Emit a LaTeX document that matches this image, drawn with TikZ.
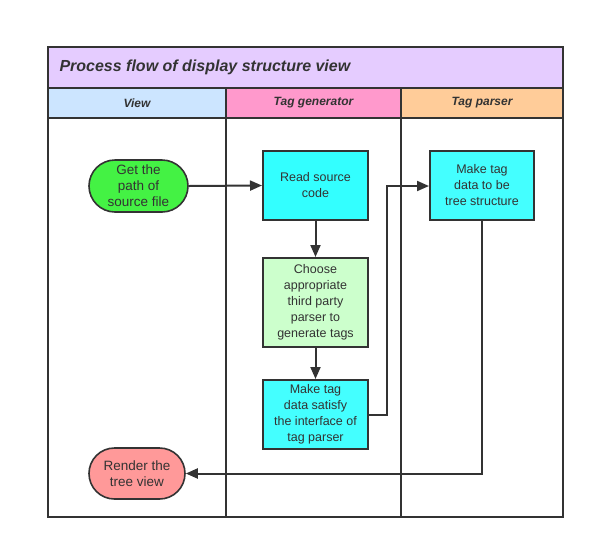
\documentclass[tikz,border=0pt]{standalone}
\usepackage{fontspec}
\setmainfont{Liberation Sans}
\usetikzlibrary{arrows.meta,shapes.misc}
\definecolor{ink}{HTML}{333333}
\definecolor{titlebg}{HTML}{E5CCFF}
\definecolor{viewbg}{HTML}{CCE5FF}
\definecolor{genbg}{HTML}{FF99CC}
\definecolor{parbg}{HTML}{FFCC99}
\definecolor{cyanbox}{HTML}{33FFFF}
\definecolor{cyanbox2}{HTML}{44FFFF}
\definecolor{lgreen}{HTML}{CCFFCC}
\definecolor{green}{HTML}{44F244}
\definecolor{pink}{HTML}{FF9999}
\tikzset{
  frame/.style={draw=ink, line width=2pt},
  procbox/.style={draw=ink, line width=2pt, rectangle, minimum width=105pt, align=center, text=ink, font=\fontsize{12.5}{16}\selectfont, inner sep=1pt},
  termbox/.style={draw=ink, line width=1.6pt, rounded rectangle, align=center, text=ink, font=\fontsize{13.5}{16}\selectfont, inner sep=1pt},
  flow/.style={draw=ink, line width=2pt, -{Triangle[length=12pt,width=10pt]}},
  hdr/.style={text=ink, font=\bfseries\itshape\fontsize{12}{14}\selectfont},
}
\begin{document}
\begin{tikzpicture}[x=1pt,y=-1pt]
\useasboundingbox (0,0) rectangle (595,550);
% lanes
\fill[titlebg] (48,47) rectangle (563,88);
\fill[viewbg] (48,88) rectangle (226,118);
\fill[genbg] (226,88) rectangle (401,118);
\fill[parbg] (401,88) rectangle (563,118);
\draw[frame] (48,47) rectangle (563,517);
\draw[frame] (48,88) -- (563,88);
\draw[frame] (48,118) -- (563,118);
\draw[frame] (226,88) -- (226,517);
\draw[frame] (401,88) -- (401,517);
\node[anchor=west, text=ink, font=\bfseries\itshape\fontsize{16}{18}\selectfont] (title) at (56,67.5) {Process flow of display structure view};
\node[hdr] (h1) at (137,103) {View};
\node[hdr] (h2) at (313.5,103) {Tag generator};
\node[hdr] (h3) at (482,103) {Tag parser};
% nodes
\node[termbox, fill=green, minimum width=101pt, minimum height=52pt] (get) at (138.5,186) {Get the\\path of\\source file};
\node[procbox, fill=cyanbox, minimum height=69pt] (read) at (315.5,185.5) {Read source\\code};
\node[procbox, fill=lgreen, minimum height=89pt] (choose) at (315.5,302.5) {Choose\\appropriate\\third party\\parser to\\generate tags};
\node[procbox, fill=cyanbox2, minimum height=69pt] (satisfy) at (315.5,414.5) {Make tag\\data satisfy\\the interface of\\tag parser};
\node[procbox, fill=cyanbox2, minimum width=104pt, minimum height=69pt] (tree) at (482,185.5) {Make tag\\data to be\\tree structure};
\node[termbox, fill=pink, minimum width=98pt, minimum height=51pt] (render) at (137,473.5) {Render the\\tree view};
% connectors
\draw[flow] (get.east) -- (read.west);
\draw[flow] (read.south) -- (choose.north);
\draw[flow] (choose.south) -- (satisfy.north);
\draw[flow] (satisfy.east) -- (387,414.5) -- (387,186) -- (tree.west |- 0,186);
\draw[flow] (tree.south) -- (482,473.5) -- (render.east);
\end{tikzpicture}
\end{document}
